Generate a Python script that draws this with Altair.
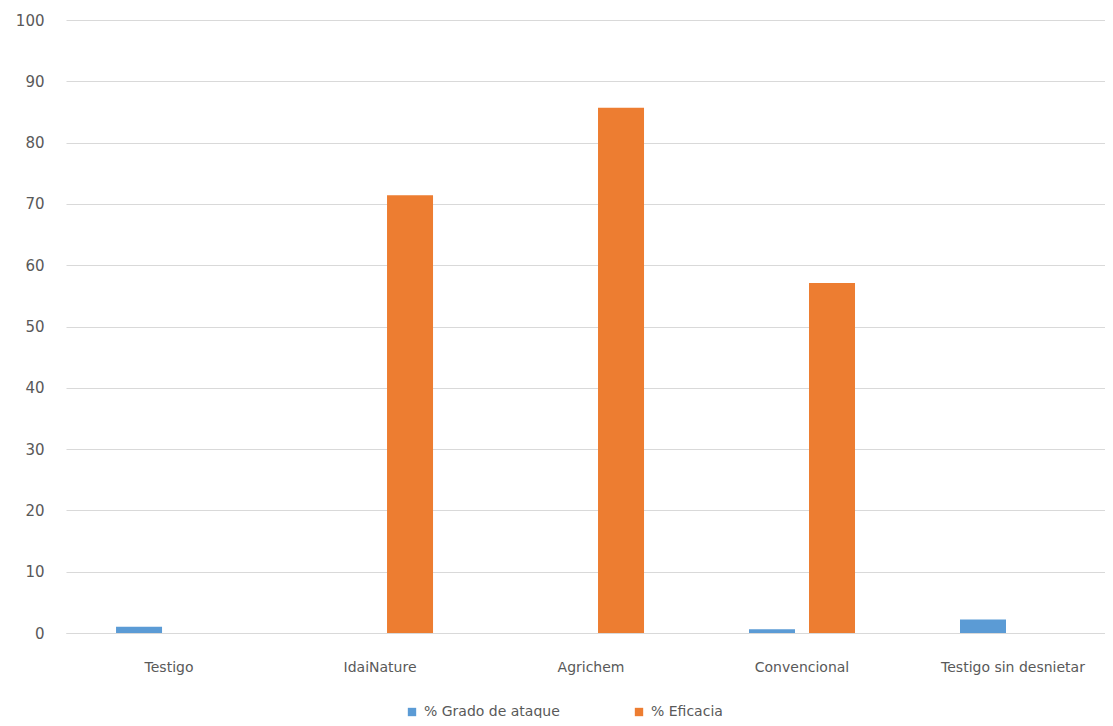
import altair as alt
import pandas as pd

categories = ["Testigo", "IdaiNature", "Agrichem", "Convencional", "Testigo sin desnietar"]
series = ["% Grado de ataque", "% Eficacia"]
grado_ataque = [1.0, 0.0, 0.0, 0.6, 2.2]
eficacia = [0.0, 71.4, 85.7, 57.1, 0.0]
colors = ["#5b9bd5", "#ed7d31"]

rows = []
for c, g, e in zip(categories, grado_ataque, eficacia):
    rows.append({"cat": c, "serie": series[0], "valor": g})
    rows.append({"cat": c, "serie": series[1], "valor": e})
df = pd.DataFrame(rows)

FONT = "DejaVu Sans"
GREY = "#595959"

chart = alt.Chart(df).mark_bar().encode(
    x=alt.X("cat:N", sort=categories, title=None,
            scale=alt.Scale(paddingInner=0.4976, paddingOuter=0.211, align=0.562),
            axis=alt.Axis(labelAngle=0, ticks=False, domainColor="#d9d9d9",
                          labelPadding=27, labelFontSize=14, labelColor=GREY,
                          labelFont=FONT)),
    xOffset=alt.XOffset("serie:N", sort=series,
                        scale=alt.Scale(paddingInner=0.2333, paddingOuter=0)),
    y=alt.Y("valor:Q", title=None,
            scale=alt.Scale(domain=[0, 100]),
            axis=alt.Axis(values=list(range(0, 101, 10)), domain=False, ticks=False,
                          gridColor="#d9d9d9", labelPadding=22, labelFontSize=15,
                          labelColor=GREY, labelFont=FONT)),
    color=alt.Color("serie:N", sort=series,
                    scale=alt.Scale(domain=series, range=colors),
                    legend=alt.Legend(title=None, orient="none", direction="horizontal",
                                      legendX=339, legendY=685, symbolType="square",
                                      symbolSize=70, symbolStrokeWidth=0,
                                      labelFontSize=14, labelColor=GREY, labelFont=FONT,
                                      columnPadding=72, labelOffset=5)),
).properties(
    width=1039, height=613,
    autosize=alt.AutoSizeParams(type="none"),
    padding={"left": 58, "top": 12, "right": 0, "bottom": 85},
).configure_view(stroke=None)

chart.save("out.html", embed_options={"renderer": "svg", "actions": False})
